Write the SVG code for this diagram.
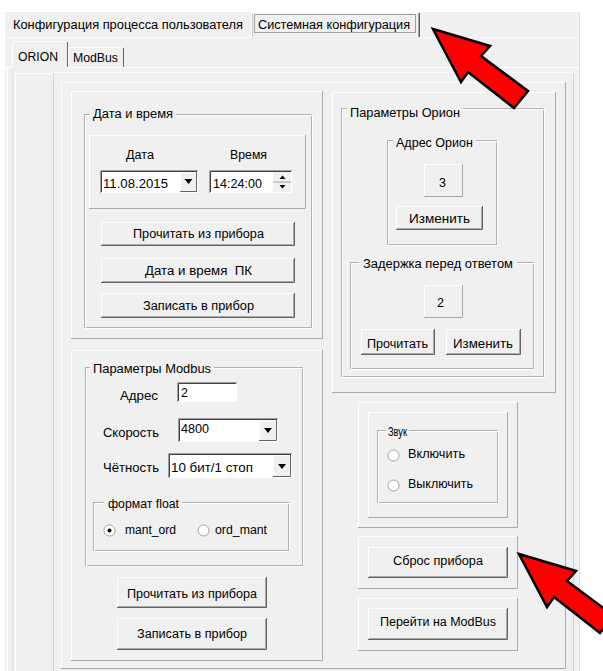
<svg xmlns="http://www.w3.org/2000/svg" width="603" height="671" viewBox="0 0 603 671">
  <style>
    .t { font-family: "Liberation Sans", Arial, sans-serif; font-size: 12.5px; fill: #000; }
    .hi { fill: none; stroke: #ffffff; stroke-width: 1; }
    .sh { fill: none; stroke: #a8a8a8; stroke-width: 1; }
    .dk { fill: none; stroke: #646464; stroke-width: 1; }
    .bg { fill: #f0f0f0; }
    .gb { fill: none; stroke: #b0b0b0; stroke-width: 1; }
    .gbw { fill: none; stroke: #ffffff; stroke-width: 1; }
    .edit { fill: #ffffff; }
    .arrow { fill: #ff0000; stroke: #000000; stroke-width: 2.5; stroke-linejoin: miter; }
  </style>

  <!-- window background -->
  <rect x="0" y="0" width="603" height="671" fill="#ffffff"/>
  <rect x="5" y="12" width="574" height="659" class="bg"/>
  <line x1="579.5" y1="12" x2="579.5" y2="671" stroke="#dcdcdc"/>

  <!-- top tab strip -->
  <g id="tab-user-config">
    <text class="t" x="13" y="29" textLength="230" lengthAdjust="spacingAndGlyphs">Конфигурация процесса пользователя</text>
  </g>
  <line x1="5" y1="37.5" x2="579" y2="37.5" stroke="#fafafa"/>
  <g id="tab-system-config">
    <rect x="251" y="12" width="169" height="26" class="bg"/>
    <path d="M251.5 37 V12.5 H418" class="hi"/>
    <path d="M252.5 37 V13.5" stroke="#c8c8c8" fill="none"/>
    <path d="M418.5 13 V37" stroke="#a0a0a0" fill="none"/>
    <path d="M419.5 13 V37" stroke="#646464" fill="none"/>
    <rect x="254.5" y="14.5" width="161" height="18" fill="none" stroke="#505050" stroke-dasharray="1 1"/>
    <text class="t" x="258" y="29" textLength="152" lengthAdjust="spacingAndGlyphs">Системная конфигурация</text>
  </g>

  <!-- inner tab strip -->
  <g id="tab-orion">
    <rect x="12" y="41" width="55" height="28" class="bg"/>
    <path d="M12.5 67 V41.5 H66" class="hi"/>
    <path d="M67.5 42 V67" stroke="#646464" fill="none"/>
    <text class="t" x="18" y="61" textLength="40" lengthAdjust="spacingAndGlyphs">ORION</text>
  </g>
  <g id="tab-modbus">
    <path d="M68.5 67 V47.5 H122" class="hi"/>
    <path d="M123.5 48 V67" stroke="#646464" fill="none"/>
    <text class="t" x="73" y="62" textLength="45" lengthAdjust="spacingAndGlyphs">ModBus</text>
  </g>

  <!-- tab page border -->
  <g id="page">
    <path d="M5 67.5 H12 M68 67.5 H579" class="hi"/>
    <path d="M7.5 68 V671" class="hi"/>
    <path d="M12.5 68 V671" stroke="#e2e2e2" fill="none"/>
    <path d="M15.5 671 V73.5 H53" class="hi"/>
    <path d="M53.5 73 V671" stroke="#d4d4d4" fill="none"/>
    <path d="M54 72.5 H573" stroke="#fafafa" fill="none"/>
    <path d="M573.5 72 V671" stroke="#d4d4d4" fill="none"/>
    <path d="M61.5 668 V82.5 H565" class="hi"/>
    <path d="M565.5 82 V668.5 H61" class="sh"/>
  </g>

  <!-- date and time block -->
  <g id="panel-datetime">
    <path d="M71.5 338 V91.5 H322" class="hi"/>
    <path d="M322.5 91 V338.5 H71" class="sh"/>
    <rect x="84.5" y="114.5" width="227" height="213" class="gb"/>
    <rect x="85.5" y="115.5" width="227" height="213" class="gbw"/>
    <rect x="90" y="108" width="86" height="14" class="bg"/>
    <text class="t" x="93" y="118" textLength="80" lengthAdjust="spacingAndGlyphs">Дата и время</text>
    <path d="M89.5 208 V135.5 H305" class="hi"/>
    <path d="M305.5 135 V208.5 H89" class="sh"/>
    <text class="t" x="126" y="159" textLength="28" lengthAdjust="spacingAndGlyphs">Дата</text>
    <text class="t" x="230" y="159" textLength="37" lengthAdjust="spacingAndGlyphs">Время</text>
  </g>
  <g id="date-combo">
    <rect x="100" y="170" width="98" height="23" class="edit"/>
    <path d="M100.5 193 V170.5 H198" stroke="#a0a0a0" fill="none"/>
    <path d="M101.5 192 V171.5 H197" stroke="#404040" fill="none"/>
    <rect x="180" y="172" width="17" height="20" class="bg"/>
    <path d="M180.5 191 V172.5 H196" class="hi"/>
    <path d="M196.5 172 V191.5 H180" class="dk"/>
    <path d="M184.5 179 H192.5 L188.5 184 Z" fill="#000"/>
    <text class="t" x="103" y="188" textLength="65" lengthAdjust="spacingAndGlyphs">11.08.2015</text>
  </g>
  <g id="time-spin">
    <rect x="209" y="170" width="83" height="23" class="edit"/>
    <path d="M209.5 193 V170.5 H292" stroke="#a0a0a0" fill="none"/>
    <path d="M210.5 192 V171.5 H291" stroke="#404040" fill="none"/>
    <rect x="273" y="172" width="18" height="20" class="bg"/>
    <path d="M273.5 182 H291" stroke="#a0a0a0" fill="none"/>
    <path d="M279.5 179 H285.5 L282.5 175.5 Z" fill="#000"/>
    <path d="M279.5 185 H285.5 L282.5 188.5 Z" fill="#000"/>
    <text class="t" x="213" y="188" textLength="49" lengthAdjust="spacingAndGlyphs">14:24:00</text>
  </g>
  <g id="btn-dt-read">
    <rect x="101" y="222" width="194" height="24" class="bg"/>
    <path d="M101.5 245 V222.5 H294" class="hi"/>
    <path d="M102 244.5 H293.5 V223" class="sh"/>
    <path d="M101 245.5 H294.5 V222" class="dk"/>
    <text class="t" x="133" y="238" textLength="131" lengthAdjust="spacingAndGlyphs">Прочитать из прибора</text>
  </g>
  <g id="btn-dt-pc">
    <rect x="101" y="258" width="194" height="25" class="bg"/>
    <path d="M101.5 282 V258.5 H294" class="hi"/>
    <path d="M102 281.5 H293.5 V259" class="sh"/>
    <path d="M101 282.5 H294.5 V258" class="dk"/>
    <text class="t" x="145" y="275" textLength="107" lengthAdjust="spacingAndGlyphs" xml:space="preserve">Дата и время  ПК</text>
  </g>
  <g id="btn-dt-write">
    <rect x="101" y="293" width="194" height="25" class="bg"/>
    <path d="M101.5 317 V293.5 H294" class="hi"/>
    <path d="M102 316.5 H293.5 V294" class="sh"/>
    <path d="M101 317.5 H294.5 V293" class="dk"/>
    <text class="t" x="143" y="310" textLength="111" lengthAdjust="spacingAndGlyphs">Записать в прибор</text>
  </g>

  <!-- Orion parameters -->
  <g id="panel-orion">
    <path d="M332.5 392 V92.5 H555" class="hi"/>
    <path d="M555.5 92 V392.5 H332" class="sh"/>
    <rect x="341.5" y="108.5" width="202" height="268" class="gb"/>
    <rect x="342.5" y="109.5" width="202" height="268" class="gbw"/>
    <rect x="347" y="102" width="116" height="14" class="bg"/>
    <text class="t" x="350" y="117" textLength="110" lengthAdjust="spacingAndGlyphs">Параметры Орион</text>
  </g>
  <g id="group-orion-address">
    <rect x="387.5" y="140.5" width="109" height="104" class="gb"/>
    <rect x="388.5" y="141.5" width="109" height="104" class="gbw"/>
    <rect x="393" y="134" width="83" height="14" class="bg"/>
    <text class="t" x="396" y="147" textLength="77" lengthAdjust="spacingAndGlyphs">Адрес Орион</text>
    <path d="M424.5 196 V164.5 H462" class="hi"/>
    <path d="M462.5 164 V196.5 H424" class="sh"/>
    <text class="t" x="439" y="187">3</text>
  </g>
  <g id="btn-orion-change">
    <rect x="396" y="206" width="87" height="24" class="bg"/>
    <path d="M396.5 229 V206.5 H482" class="hi"/>
    <path d="M397 228.5 H481.5 V207" class="sh"/>
    <path d="M396 229.5 H482.5 V206" class="dk"/>
    <text class="t" x="409" y="223" textLength="61" lengthAdjust="spacingAndGlyphs">Изменить</text>
  </g>
  <g id="group-delay">
    <rect x="350.5" y="262.5" width="183" height="106" class="gb"/>
    <rect x="351.5" y="263.5" width="183" height="106" class="gbw"/>
    <rect x="359" y="256" width="158" height="14" class="bg"/>
    <text class="t" x="363" y="268" textLength="150" lengthAdjust="spacingAndGlyphs">Задержка перед ответом</text>
    <path d="M424.5 317 V285.5 H462" class="hi"/>
    <path d="M462.5 285 V317.5 H424" class="sh"/>
    <text class="t" x="437" y="307">2</text>
  </g>
  <g id="btn-delay-read">
    <rect x="361" y="329" width="74" height="26" class="bg"/>
    <path d="M361.5 354 V329.5 H434" class="hi"/>
    <path d="M362 353.5 H433.5 V330" class="sh"/>
    <path d="M361 354.5 H434.5 V329" class="dk"/>
    <text class="t" x="367" y="348" textLength="61" lengthAdjust="spacingAndGlyphs">Прочитать</text>
  </g>
  <g id="btn-delay-change">
    <rect x="446" y="329" width="75" height="26" class="bg"/>
    <path d="M446.5 354 V329.5 H520" class="hi"/>
    <path d="M447 353.5 H519.5 V330" class="sh"/>
    <path d="M446 354.5 H520.5 V329" class="dk"/>
    <text class="t" x="453" y="348" textLength="60" lengthAdjust="spacingAndGlyphs">Изменить</text>
  </g>

  <!-- Modbus parameters -->
  <g id="panel-modbus">
    <path d="M71.5 660 V350.5 H322" class="hi"/>
    <path d="M322.5 350 V660.5 H71" class="sh"/>
    <rect x="85.5" y="367.5" width="217" height="198" class="gb"/>
    <rect x="86.5" y="368.5" width="217" height="198" class="gbw"/>
    <rect x="90" y="361" width="124" height="14" class="bg"/>
    <text class="t" x="93" y="373" textLength="118" lengthAdjust="spacingAndGlyphs">Параметры Modbus</text>
    <text class="t" x="120" y="400" textLength="38" lengthAdjust="spacingAndGlyphs">Адрес</text>
    <text class="t" x="103" y="437" textLength="56" lengthAdjust="spacingAndGlyphs">Скорость</text>
    <text class="t" x="103" y="472" textLength="56" lengthAdjust="spacingAndGlyphs">Чётность</text>
  </g>
  <g id="edit-address">
    <rect x="177" y="382" width="60" height="20" class="edit"/>
    <path d="M177.5 402 V382.5 H237" stroke="#a0a0a0" fill="none"/>
    <path d="M178.5 401 V383.5 H236" stroke="#404040" fill="none"/>
    <text class="t" x="181" y="397">2</text>
  </g>
  <g id="combo-speed">
    <rect x="178" y="418" width="100" height="24" class="edit"/>
    <path d="M178.5 442 V418.5 H278" stroke="#a0a0a0" fill="none"/>
    <path d="M179.5 441 V419.5 H277" stroke="#404040" fill="none"/>
    <rect x="259" y="420" width="18" height="21" class="bg"/>
    <path d="M259.5 440 V420.5 H276" class="hi"/>
    <path d="M276.5 420 V440.5 H259" class="dk"/>
    <path d="M264 428 H272 L268 433 Z" fill="#000"/>
    <text class="t" x="181" y="433" textLength="28" lengthAdjust="spacingAndGlyphs">4800</text>
  </g>
  <g id="combo-parity">
    <rect x="168" y="453" width="124" height="25" class="edit"/>
    <path d="M168.5 478 V453.5 H292" stroke="#a0a0a0" fill="none"/>
    <path d="M169.5 477 V454.5 H291" stroke="#404040" fill="none"/>
    <rect x="273" y="455" width="18" height="22" class="bg"/>
    <path d="M273.5 476 V455.5 H290" class="hi"/>
    <path d="M290.5 455 V476.5 H273" class="dk"/>
    <path d="M278 464 H286 L282 469 Z" fill="#000"/>
    <text class="t" x="171" y="472" textLength="82" lengthAdjust="spacingAndGlyphs">10 бит/1 стоп</text>
  </g>
  <g id="group-float">
    <rect x="93.5" y="502.5" width="195" height="48" class="gb"/>
    <rect x="94.5" y="503.5" width="195" height="48" class="gbw"/>
    <rect x="104" y="496" width="78" height="14" class="bg"/>
    <text class="t" x="108" y="508" textLength="71" lengthAdjust="spacingAndGlyphs">формат float</text>
    <circle cx="109.5" cy="530.5" r="5.5" fill="#fff" stroke="#a0a0a0"/>
    <circle cx="109.5" cy="530.5" r="2" fill="#000"/>
    <text class="t" x="125" y="534" textLength="51" lengthAdjust="spacingAndGlyphs">mant_ord</text>
    <circle cx="203.5" cy="530.5" r="5.5" fill="#fff" stroke="#a0a0a0"/>
    <text class="t" x="215" y="534" textLength="52" lengthAdjust="spacingAndGlyphs">ord_mant</text>
  </g>
  <g id="btn-mb-read">
    <rect x="117" y="577" width="150" height="31" class="bg"/>
    <path d="M117.5 607 V577.5 H266" class="hi"/>
    <path d="M118 606.5 H265.5 V578" class="sh"/>
    <path d="M117 607.5 H266.5 V577" class="dk"/>
    <text class="t" x="127" y="598" textLength="130" lengthAdjust="spacingAndGlyphs">Прочитать из прибора</text>
  </g>
  <g id="btn-mb-write">
    <rect x="117" y="618" width="150" height="32" class="bg"/>
    <path d="M117.5 649 V618.5 H266" class="hi"/>
    <path d="M118 648.5 H265.5 V619" class="sh"/>
    <path d="M117 649.5 H266.5 V618" class="dk"/>
    <text class="t" x="137" y="638" textLength="110" lengthAdjust="spacingAndGlyphs">Записать в прибор</text>
  </g>

  <!-- sound -->
  <g id="panel-sound">
    <path d="M358.5 527 V402.5 H517" class="hi"/>
    <path d="M517.5 402 V527.5 H358" class="sh"/>
    <path d="M368.5 517 V412.5 H507" class="hi"/>
    <path d="M507.5 412 V517.5 H368" class="sh"/>
    <rect x="377.5" y="430.5" width="120" height="72" class="gb"/>
    <rect x="378.5" y="431.5" width="120" height="72" class="gbw"/>
    <rect x="386" y="424" width="23" height="14" class="bg"/>
    <text class="t" x="388" y="436" font-size="11" textLength="19" lengthAdjust="spacingAndGlyphs">Звук</text>
    <circle cx="393.5" cy="455.5" r="5.5" fill="#fff" stroke="#a0a0a0"/>
    <text class="t" x="408" y="458" textLength="57" lengthAdjust="spacingAndGlyphs">Включить</text>
    <circle cx="393.5" cy="485.5" r="5.5" fill="#fff" stroke="#a0a0a0"/>
    <text class="t" x="408" y="488" textLength="65" lengthAdjust="spacingAndGlyphs">Выключить</text>
  </g>

  <!-- reset -->
  <g id="panel-reset">
    <path d="M358.5 588 V536.5 H517" class="hi"/>
    <path d="M517.5 536 V588.5 H358" class="sh"/>
    <rect x="368" y="547" width="140" height="31" class="bg"/>
    <path d="M368.5 577 V547.5 H507" class="hi"/>
    <path d="M369 576.5 H506.5 V548" class="sh"/>
    <path d="M368 577.5 H507.5 V547" class="dk"/>
    <text class="t" x="393" y="565" textLength="90" lengthAdjust="spacingAndGlyphs">Сброс прибора</text>
  </g>

  <!-- switch to ModBus -->
  <g id="panel-goto-modbus">
    <path d="M358.5 650 V598.5 H517" class="hi"/>
    <path d="M517.5 598 V650.5 H358" class="sh"/>
    <rect x="368" y="608" width="140" height="32" class="bg"/>
    <path d="M368.5 639 V608.5 H507" class="hi"/>
    <path d="M369 638.5 H506.5 V609" class="sh"/>
    <path d="M368 639.5 H507.5 V608" class="dk"/>
    <text class="t" x="380" y="626" textLength="116" lengthAdjust="spacingAndGlyphs">Перейти на ModBus</text>
  </g>

  <!-- pointer arrows -->
  <g id="connectors">
    <polygon class="arrow" points="433,29 490,46 481,56 528,91 514,108 468,72 461,82"/>
    <polygon class="arrow" points="519,554 576,571 567,581 614,616 600,633 554,597 547,607"/>
  </g>
</svg>
